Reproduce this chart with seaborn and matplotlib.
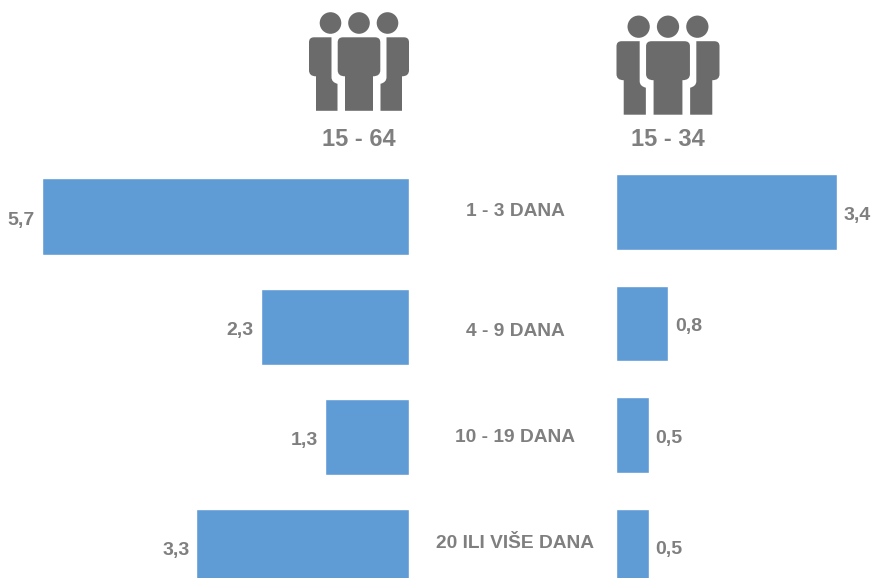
# Two mirrored bar panels with people icons on top
import pandas as pd
import seaborn as sns
import matplotlib.pyplot as plt
from matplotlib.patches import Circle, PathPatch
from matplotlib.path import Path

categories = ['1 - 3 DANA', '4 - 9 DANA', '10 - 19 DANA', '20 ILI VIŠE DANA']
values_1564 = [5.7, 2.3, 1.3, 3.3]
values_1534 = [3.4, 0.8, 0.5, 0.5]
age_labels = ['15 - 64', '15 - 34']

BLUE = '#5f9bd5'
GREY = '#7f7f7f'
ICON = '#6b6b6b'
W, H = 872, 578

sns.set_style('white')
plt.rcParams['font.family'] = ['Liberation Sans', 'DejaVu Sans']
plt.rcParams['font.weight'] = 'bold'

df = pd.DataFrame({'dani': categories, 'a': values_1564, 'b': values_1534})
fig = plt.figure(figsize=(W / 100, H / 100), dpi=100, facecolor='white')


def panel(left, width, xlim, ylim, col, bar_width):
    # left/width in pixels of the figure
    ax = fig.add_axes([left / W, 0, width / W, 1])
    sns.barplot(data=df, x=col, y='dani', color=BLUE, saturation=1, width=bar_width, ax=ax, orient='h')
    ax.set_xlim(*xlim)
    ax.set_ylim(*ylim)
    ax.axis('off')
    labels = ax.bar_label(ax.containers[0], labels=[f'{v:.1f}'.replace('.', ',') for v in df[col]],
                          padding=5, color=GREY, fontsize=14, fontweight='bold')
    # labels sit a little below the bar centres in the original
    for t in labels:
        t.xyann = (t.xyann[0], t.xyann[1] - 2.5)
    return ax


panel(0, 409, (409 / 64.4, 0), (3.277, -1.963), 'a', 0.69)
panel(616, 256, (0, 256 / 65), (3.283, -1.901), 'b', 0.68)

# overlay in pixel coordinates for icons and free text
over = fig.add_axes([0, 0, 1, 1])
over.set_xlim(0, W)
over.set_ylim(H, 0)
over.axis('off')

M, L, C = Path.MOVETO, Path.LINETO, Path.CURVE3
CENTER = [(M, -16, 0), (L, 16, 0), (C, 21.3, 0), (C, 21.3, 5), (L, 21.3, 33), (C, 21.3, 39), (C, 14, 39),
          (L, 14, 73.5), (L, -14, 73.5), (L, -14, 39), (C, -21.3, 39), (C, -21.3, 33),
          (L, -21.3, 5), (C, -21.3, 0), (C, -16, 0), (L, -16, 0)]
SIDE = [(M, -45, 0), (L, -27.5, 0), (L, -27.5, 40), (C, -27.5, 45), (C, -21.5, 46.5), (L, -21.5, 73.5),
        (L, -43, 73.5), (L, -43, 39), (C, -50, 39), (C, -50, 33), (L, -50, 5), (C, -50, 0), (C, -45, 0)]


def shape(points, cx, top, sx, sy):
    codes = [p[0] for p in points]
    verts = [(cx + p[1] * sx, top + p[2] * sy) for p in points]
    over.add_patch(PathPatch(Path(verts, codes), facecolor=ICON, edgecolor='none'))


def people(cx, head_y, top, sx):
    for dx in (-28.5, 0, 28.5):
        over.add_patch(Circle((cx + dx * sx, head_y), 10.8 * sx, facecolor=ICON, edgecolor='none'))
    shape(CENTER, cx, top, sx, 1)
    shape(SIDE, cx, top, sx, 1)
    shape(SIDE, cx, top, -sx, 1)


people(359, 23, 37.3, 1.0)
people(668, 26.7, 41.2, 1.03)

over.text(359, 139, age_labels[0], ha='center', va='center', color=GREY, fontsize=17, fontweight='bold')
over.text(668, 139, age_labels[1], ha='center', va='center', color=GREY, fontsize=17, fontweight='bold')

for label, y in zip(categories, [211, 331, 438, 543]):
    over.text(515, y, label, ha='center', va='center', color=GREY, fontsize=13.8, fontweight='bold')

plt.savefig('out.png', dpi=100)
